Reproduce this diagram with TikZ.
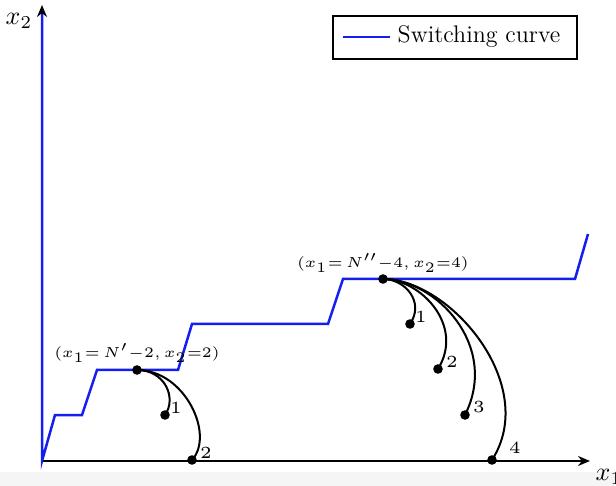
\documentclass[tikz,border=0pt]{standalone}
\usetikzlibrary{arrows.meta}
\begin{document}
\begin{tikzpicture}[x=0.5pt,y=-0.5pt,
  dot/.style={circle,fill=black,inner sep=0pt,minimum size=4.8pt},
  sw/.style={color={rgb,255:red,20;green,30;blue,240},line width=1.25pt},
  traj/.style={black,line width=1pt},
  axis/.style={line width=1pt,-{Stealth[length=6pt,width=5pt]}},
  num/.style={font=\tiny,scale=1.7,inner sep=0pt},
  pt/.style={font=\tiny,scale=1.45,inner sep=0pt},
  axlab/.style={scale=1.3,inner sep=0pt}]
\useasboundingbox (0,0) rectangle (616,486);
\fill[black!4] (0,472) rectangle (616,486);
% axes
\coordinate (O) at (42,461);
\coordinate (ytop) at (42,5);
\coordinate (xend) at (590,461);
\draw[axis] (O) -- (ytop);
\draw[axis] (O) -- (xend);
\node[axlab] (lx2) at (19,21) {$x_2$};
\node[axlab] (lx1) at (609,477) {$x_1$};
% switching curve
\draw[sw] (42,14) -- (O) -- (55,415) -- (82,415) -- (97,370) -- (178,370) -- (192,324)
  -- (328,324) -- (343,279) -- (575,279) -- (588,234);
% left trajectories
\node[dot] (A) at (137,370) {};
\node[dot] (A1) at (165,415) {};
\node[dot] (A2) at (192,460) {};
\draw[traj] (A.center) .. controls (165,370) and (177,398) .. (A1.center);
\draw[traj] (A.center) .. controls (185,370) and (215,435) .. (A2.center);
\node[num] (nA1) at (176,408) {1};
\node[num] (nA2) at (206,453) {2};
\node[pt] (LA) at (137,353) {$(x_1{=}\,N'{-}2, x_2{=}2)$};
% right trajectories
\node[dot] (B) at (383,279) {};
\node[dot] (B1) at (410,324) {};
\node[dot] (B2) at (438,369) {};
\node[dot] (B3) at (465,415) {};
\node[dot] (B4) at (492,460) {};
\draw[traj] (B.center) .. controls (405,279) and (425,302) .. (B1.center);
\draw[traj] (B.center) .. controls (420,279) and (465,325) .. (B2.center);
\draw[traj] (B.center) .. controls (435,279) and (500,345) .. (B3.center);
\draw[traj] (B.center) .. controls (450,279) and (540,385) .. (B4.center);
\node[num] (nB1) at (421,317) {1};
\node[num] (nB2) at (452,362) {2};
\node[num] (nB3) at (479,407) {3};
\node[num] (nB4) at (515,448) {4};
\node[pt] (LB) at (383,263) {$(x_1{=}\,N''{-}4, x_2{=}4)$};
% legend
\node[draw,line width=1pt,minimum width=122pt,minimum height=21.5pt,inner sep=0pt] (leg) at (455,37.5) {};
\coordinate (legl) at (343,37);
\coordinate (legr) at (390,37);
\draw[sw,line width=1pt] (legl) -- (legr);
\node[font=\fontsize{12}{14}\selectfont,inner sep=0pt] (legt) at (479,37) {Switching curve};
\end{tikzpicture}
\end{document}
